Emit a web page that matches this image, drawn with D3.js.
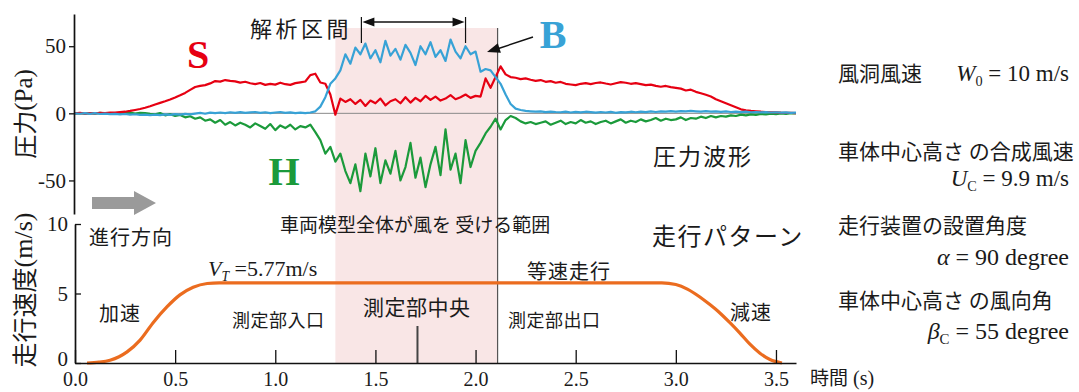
<!DOCTYPE html>
<html>
<head>
<meta charset="utf-8">
<script src="https://cdn.jsdelivr.net/npm/d3@7"></script>
<style>
body { margin: 0; background: #fff; }
svg { display: block; }
</style>
</head>
<body>
<svg id="viz"></svg>
<script>
// pressure samples, one every 0.025 s from 0 to 3.6 s (Pa)
const sampleStep = 0.025;
const pressureS = [
    0, 0.3, -0.2, 0.2, 0, 0.4, 0.1, 0.5,
    0.6, 0.9, 1.2, 1.8, 2.5, 3.2, 4.2, 5.3,
    6.6, 7.8, 9.0, 10.3, 11.8, 13.4, 15.2, 17.5,
    19.6, 20.4, 21.0, 22.3, 24.0, 23.6, 24.8, 24.2,
    23.8, 22.9, 23.5, 22.4, 21.8, 22.6, 21.2, 21.9,
    21.4, 22.8, 21.7, 21.2, 22.5, 23.1, 23.7, 28.5,
    29.5, 23.0, 22.0, 14.0, -1.0, 11.0, 8.5, 10.5,
    7.0, 10.0, 5.5, 9.5, 7.5, 11.0, 6.0, 9.0,
    10.5, 7.5, 12.0, 8.0, 11.5, 9.0, 13.0, 10.0,
    12.5, 9.5, 11.0, 13.5, 10.5, 12.0, 14.0, 11.5,
    13.0, 12.5, 26.0, 19.0, 27.0, 35.0, 29.0, 27.0,
    26.5, 25.5, 26.0, 25.0, 24.2, 24.8, 23.5, 24.0,
    22.8, 23.4, 22.0, 21.5, 21.0, 22.0, 22.5, 21.8,
    22.6, 23.0, 22.2, 21.5, 22.4, 23.2, 22.8, 22.0,
    22.5, 21.8, 21.0, 21.4, 20.5, 19.8, 20.4, 19.5,
    19.0, 18.4, 17.0, 17.6, 16.0, 15.0, 13.8, 12.5,
    10.5, 9.0, 7.5, 6.0, 4.5, 3.0, 2.2, 1.8,
    1.5, 1.2, 1.0, 0.8, 0.7, 0.5, 0.4, 0.3, 0.2
];
const pressureB = [
    0, -0.3, 0.2, -0.4, 0.1, -0.5, -0.2, -0.6,
    -0.4, -0.8, -0.5, -1.0, -0.7, -1.2, -0.9, -1.3,
    -1.0, -1.4, -0.8, -1.2, -0.6, -1.0, -0.4, -0.8,
    -0.2, 0.3, -0.3, 0.5, 0.1, 0.6, 0.2, 0.8,
    0.4, 0.9, 0.3, 0.7, 1.0, 0.4, 0.8, 0.2,
    0.6, 1.0, 0.3, 0.7, 0.2, 0.5, 0.1, 0.6,
    1.5, 5.0, 12.0, 22.0, 26.0, 32.0, 44.0, 37.0,
    49, 44, 52, 41, 47, 38, 54, 43,
    48, 40, 51, 45, 36, 50, 44, 53,
    42, 47, 39, 55, 46, 41, 50, 44,
    46, 31, 33, 32, 27, 22, 14, 7,
    3.5, 2.5, 1.8, 1.5, 1.2, 1.4, 0.9, 1.3,
    1.0, 0.8, 1.3, 0.6, 1.1, 0.7, 1.2, 0.9,
    0.5, 1.0, 0.6, 1.1, 0.4, 0.9, 0.7, 1.2,
    0.8, 1.3, 0.9, 1.4, 1.0, 1.5, 1.2, 1.6,
    1.3, 1.7, 1.4, 1.8, 1.5, 1.2, 1.6, 1.3,
    1.5, 1.1, 1.4, 1.0, 1.3, 0.9, 1.2, 0.8,
    1.0, 0.7, 0.9, 0.6, 0.8, 0.5, 0.7, 0.4, 0.5
];
const pressureH = [
    0, 0.2, -0.3, 0.1, -0.2, 0.3, -0.1, 0.2,
    0.1, -0.3, 0.3, 0.5, -0.2, 0.4, 0.1, -0.4,
    -0.8, 0.2, -1.5, -0.6, -2.0, -1.2, -3.0, -2.2,
    -4.0, -3.0, -5.5, -4.5, -7.0, -5.0, -8.5, -6.5,
    -9.0, -7.0, -8.5, -10.5, -7.5, -9.5, -11.5, -8.0,
    -12.5, -9.0, -11.0, -8.5, -12.0, -9.5, -10.5, -8.5,
    -14, -20, -30, -25, -36, -30, -43, -52,
    -38, -58, -30, -47, -26, -52, -35, -45,
    -28, -50, -40, -22, -48, -33, -55, -38,
    -25, -46, -12, -42, -30, -52, -20, -40,
    -28, -22, -15, -10, -4, -12, -5, -2,
    -3.5, -6.0, -7.5, -6.5, -8.0, -7.0, -6.0, -8.5,
    -7.0, -5.5, -8.0, -6.5, -7.5, -5.0, -7.0, -6.0,
    -8.0, -6.5, -5.5, -7.5, -6.0, -4.5, -7.0, -5.5,
    -6.5, -4.5, -6.0, -5.0, -3.5, -5.5, -4.0, -5.0,
    -4.5, -3.0, -5.0, -3.5, -4.0, -2.5, -3.5, -2.0,
    -3.0, -2.0, -2.5, -1.5, -2.0, -1.0, -1.5, -0.8,
    -1.2, -0.5, -0.8, -0.3, -0.6, 0.0, -0.4, 0.1, 0
];

// running pattern (s, m/s)
const speedTime = [0.06, 0.12, 0.175, 0.22, 0.26, 0.325, 0.39, 0.46, 0.524, 0.59, 0.66, 0.72,
    2.93, 3.0, 3.06, 3.12, 3.17, 3.22, 3.27, 3.32, 3.37, 3.42, 3.47, 3.53];
const speedValue = [0, 0.06, 0.2, 0.45, 0.8, 1.65, 2.9, 4.05, 4.9, 5.45, 5.72, 5.77,
    5.77, 5.65, 5.3, 4.75, 4.2, 3.6, 2.9, 2.15, 1.35, 0.7, 0.25, 0];

const timeTicks = [0, 0.5, 1.0, 1.5, 2.0, 2.5, 3.0, 3.5];
const pressureTicks = [-50, 0, 50];
const speedTicks = [0, 5, 10];
const windRange = [1.30, 2.11];      // 車両模型全体が風を受ける範囲
const analysisRange = [1.43, 1.95];  // 解析区間
const centerTime = 1.71;             // 測定部中央

const SERIF = '"Liberation Serif", "Times New Roman", serif';
const JP = '"Noto Sans CJK JP", sans-serif';

const width = 1079, height = 392;
const svg = d3.select('#viz').attr('width', width).attr('height', height);

const x = d3.scaleLinear().domain([0, 3.6]).range([75, 796]);
const yP = d3.scaleLinear().domain([-75, 74]).range([214, 14]);
const yV = d3.scaleLinear().domain([0, 10]).range([363, 224]);

// shaded range + exit line
svg.append('rect')
    .attr('x', x(windRange[0])).attr('y', 28)
    .attr('width', x(windRange[1]) - x(windRange[0]))
    .attr('height', yV(0) - 28)
    .attr('fill', '#f9e6e6');
svg.append('line')
    .attr('x1', x(windRange[1])).attr('x2', x(windRange[1]))
    .attr('y1', 28).attr('y2', yV(0))
    .attr('stroke', '#555').attr('stroke-width', 1.2);

// zero line
svg.append('line')
    .attr('x1', x(0)).attr('x2', x(3.6))
    .attr('y1', yP(0)).attr('y2', yP(0))
    .attr('stroke', '#8a8a8a').attr('stroke-width', 1);

// pressure waveforms
const pLine = d3.line()
    .x((d, i) => x(i * sampleStep))
    .y(d => yP(d));
[[pressureH, '#1b9a3b'], [pressureS, '#e60012'], [pressureB, '#38a2d6']].forEach(function (s) {
    svg.append('path')
        .datum(s[0])
        .attr('d', pLine)
        .attr('fill', 'none')
        .attr('stroke', s[1])
        .attr('stroke-width', 2.2)
        .attr('stroke-linejoin', 'round');
});

// speed curve
const vLine = d3.line()
    .x(d => x(d[0]))
    .y(d => yV(d[1]))
    .curve(d3.curveMonotoneX);
svg.append('path')
    .datum(d3.zip(speedTime, speedValue))
    .attr('d', vLine)
    .attr('fill', 'none')
    .attr('stroke', '#eb6c1f')
    .attr('stroke-width', 3.2);

// center marker
svg.append('line')
    .attr('x1', x(centerTime)).attr('x2', x(centerTime))
    .attr('y1', 326).attr('y2', yV(0))
    .attr('stroke', '#444').attr('stroke-width', 2);

// axes
function styleAxis(g, size) {
    g.select('.domain').attr('stroke', '#111').attr('stroke-width', 1.7);
    g.selectAll('.tick line').attr('stroke', '#111').attr('stroke-width', 1.3);
    g.selectAll('.tick text')
        .attr('font-family', SERIF)
        .attr('font-size', size)
        .attr('fill', '#1a1a1a');
}
svg.append('g')
    .attr('transform', `translate(${x(0) - 1},0)`)
    .call(d3.axisLeft(yP).tickValues(pressureTicks).tickSize(5).tickSizeOuter(0).tickPadding(3)
        .tickFormat(d => String(d)))
    .call(styleAxis, 21);
const axV = svg.append('g')
    .attr('transform', `translate(${x(0)},0)`)
    .call(d3.axisLeft(yV).tickValues(speedTicks).tickSize(-6).tickSizeOuter(0).tickPadding(7))
    .call(styleAxis, 21);
axV.selectAll('.tick text').filter(d => d === 0).attr('dy', '0.1em');
svg.append('g')
    .attr('transform', `translate(0,${yV(0)})`)
    .call(d3.axisBottom(x).tickValues(timeTicks).tickSize(-13).tickSizeOuter(0).tickPadding(9)
        .tickFormat(d3.format('.1f')))
    .call(styleAxis, 20);

// arrow helper
function arrowHead(tx, ty, fx, fy, len, half) {
    const dx = tx - fx, dy = ty - fy, l = Math.hypot(dx, dy);
    const ux = dx / l, uy = dy / l;
    const bx = tx - ux * len, by = ty - uy * len;
    return [[tx, ty], [bx - uy * half, by + ux * half], [bx + uy * half, by - ux * half]];
}
function tri(pts) {
    svg.append('polygon').attr('points', pts.map(p => p.join(',')).join(' ')).attr('fill', '#111');
}

// analysis interval
const a0 = x(analysisRange[0]), a1 = x(analysisRange[1]);
[a0, a1].forEach(function (xx) {
    svg.append('line').attr('x1', xx).attr('x2', xx).attr('y1', 17).attr('y2', 43)
        .attr('stroke', '#111').attr('stroke-width', 1.2);
});
svg.append('line').attr('x1', a0 + 8).attr('x2', a1 - 8).attr('y1', 22).attr('y2', 22)
    .attr('stroke', '#111').attr('stroke-width', 1.4);
tri(arrowHead(a0 + 1, 22, a1, 22, 12, 4.5));
tri(arrowHead(a1 - 1, 22, a0, 22, 12, 4.5));

// arrow to B
svg.append('line').attr('x1', 533).attr('y1', 37).attr('x2', 497).attr('y2', 49)
    .attr('stroke', '#111').attr('stroke-width', 1.4);
tri(arrowHead(487, 52, 533, 37, 13, 5));

// direction arrow
svg.append('polygon')
    .attr('points', '92,197 134,197 134,191 156,203 134,215 134,209 92,209')
    .attr('fill', '#9a9a9a');

// series letters
[['S', 198, 68, '#e60012'], ['H', 284, 185, '#1b9a3b'], ['B', 553, 48, '#38a2d6']].forEach(function (l) {
    svg.append('text').attr('x', l[1]).attr('y', l[2])
        .attr('font-family', SERIF)
        .attr('text-anchor', 'middle').attr('font-size', 40).attr('font-weight', 'bold')
        .attr('fill', l[3]).text(l[0]);
});

// japanese labels: text, x, baseline, size, letter spacing
const labels = [
    ['解析区間', 250, 37, 22, 3.5],
    ['進行方向', 89, 245, 20, 1],
    ['車両模型全体が風を 受ける範囲', 280, 232, 19, 0],
    ['走行パターン', 652, 245, 24, 1.5],
    ['等速走行', 527, 279, 20, 1],
    ['加速', 99, 321, 20, 1],
    ['測定部入口', 232, 327, 18, 0.5],
    ['測定部中央', 363, 315, 21, 0.5],
    ['測定部出口', 508, 327, 18, 0.5],
    ['減速', 730, 320, 20, 1],
    ['圧力波形', 653, 165, 23, 2],
    ['風洞風速', 838, 81, 21, 0],
    ['車体中心高さ の合成風速', 838, 159, 21, 0],
    ['走行装置の設置角度', 838, 233, 21, 0],
    ['車体中心高さ の風向角', 838, 308, 21, 0]
];
labels.forEach(function (l) {
    svg.append('text').attr('x', l[1]).attr('y', l[2])
        .attr('font-family', JP).attr('fill', '#1a1a1a')
        .attr('font-size', l[3]).attr('letter-spacing', l[4]).text(l[0]);
});

// math labels
function mathText(xx, y, size, anchor, parts) {
    const t = svg.append('text').attr('x', xx).attr('y', y)
        .attr('font-family', SERIF).attr('fill', '#1a1a1a')
        .attr('font-size', size).attr('text-anchor', anchor);
    parts.forEach(function (p) {
        const s = t.append('tspan').text(p.t);
        if (p.i) s.attr('font-style', 'italic');
        if (p.sub) s.attr('font-size', size * 0.62).attr('dy', size * 0.22);
        if (p.back) s.attr('dy', -size * 0.22);
    });
}
mathText(1069, 81, 23, 'end', [{ t: 'W', i: 1 }, { t: '0', sub: 1 }, { t: ' = 10 m/s', back: 1 }]);
mathText(1069, 186, 23, 'end', [{ t: 'U', i: 1 }, { t: 'C', sub: 1 }, { t: ' = 9.9 m/s', back: 1 }]);
mathText(1069, 265, 24, 'end', [{ t: 'α', i: 1 }, { t: ' = 90 degree' }]);
mathText(1069, 339, 24, 'end', [{ t: 'β', i: 1 }, { t: 'C', sub: 1 }, { t: ' = 55 degree', back: 1 }]);
mathText(208, 276, 22, 'start', [{ t: 'V', i: 1 }, { t: 'T', i: 1, sub: 1 }, { t: ' =5.77m/s', back: 1 }]);

// axis titles
function axisTitle(cx, cy, size, jp, unit) {
    const t = svg.append('text')
        .attr('transform', `translate(${cx},${cy}) rotate(-90)`)
        .attr('fill', '#1a1a1a')
        .attr('text-anchor', 'middle').attr('dominant-baseline', 'central');
    t.append('tspan').attr('font-family', JP).attr('font-size', size).text(jp);
    t.append('tspan').attr('font-family', SERIF).attr('font-size', size + 1).text(unit);
}
axisTitle(23, 114, 24, '圧力', '(Pa)');
axisTitle(23, 290, 25, '走行速度', '(m/s)');

// x title
const xt = svg.append('text').attr('x', 810).attr('y', 385).attr('fill', '#1a1a1a');
xt.append('tspan').attr('font-family', JP).attr('font-size', 19).text('時間');
xt.append('tspan').attr('font-family', SERIF).attr('font-size', 20).text(' (s)');
</script>
</body>
</html>
